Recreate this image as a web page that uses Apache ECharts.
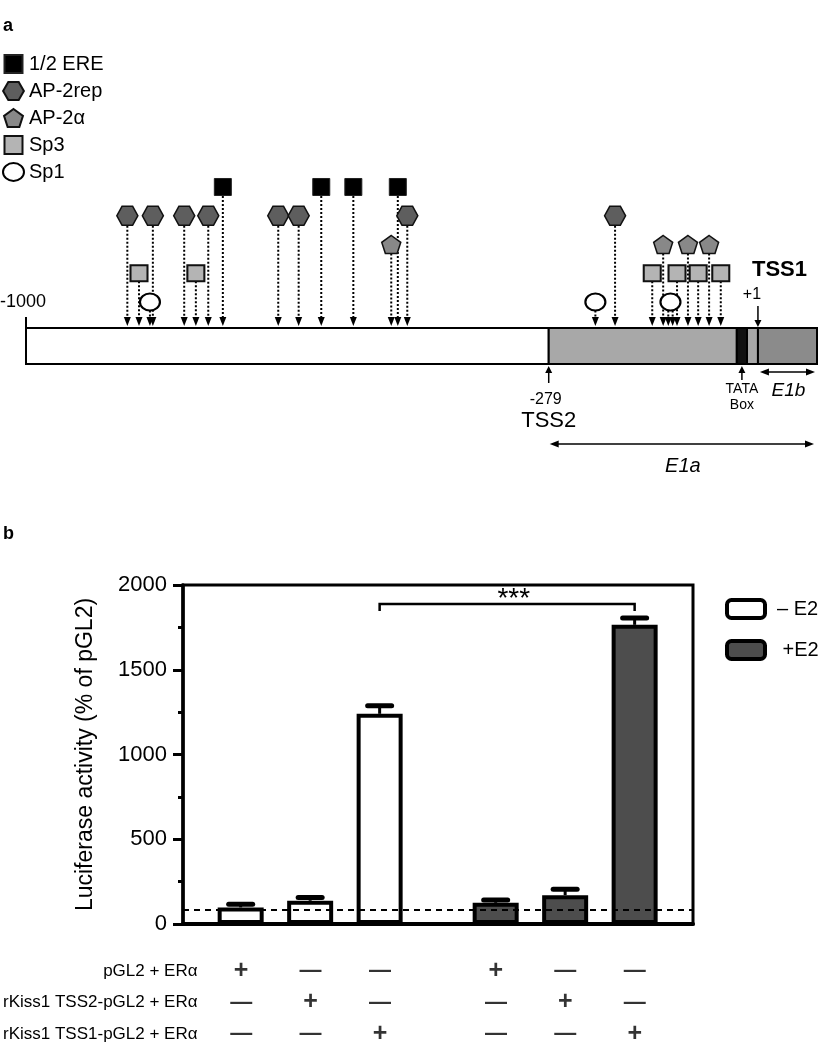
<!DOCTYPE html>
<html><head><meta charset="utf-8">
<script src="https://cdn.jsdelivr.net/npm/echarts@6/dist/echarts.min.js"></script>
<style>html,body{margin:0;padding:0;background:#fff}#c{width:818px;height:1050px}</style>
</head><body><div id="c"></div>
<script>
// ===== Panel a data (positions in bp) =====
const siteTypes = ['1/2 ERE', 'AP-2rep', 'AP-2α', 'Sp3', 'Sp1'];
const ereSites = [-730, -595, -551, -490];
const ap2repSites = [-861, -826, -783, -750, -654, -626, -477, -192];
const ap2aSites = [-499, -126, -92, -63];
const sp3Sites = [-845, -767, -141, -107, -78, -47];
const sp1Sites = [-830, -219, -116];
const sp1Arrows = [-830, -219, -119, -113];
const promoterStart = -1000, promoterEnd = 85;
const tss2Pos = -283, tss1Pos = 4;
const tataBox = [-25, -11];
const startLabel = '-1000', tss2Label = '-279', tss1Label = '+1';

// ===== Panel b data =====
const constructs = ['pGL2 + ERα', 'rKiss1 TSS2-pGL2 + ERα', 'rKiss1 TSS1-pGL2 + ERα'];
const minusE2 = [98, 137, 1240];
const minusE2Err = [18, 20, 48];
const plusE2 = [125, 170, 1765];
const plusE2Err = [17, 35, 40];
const baselinePct = 85;
const tableSigns = [
  ['+', '—', '—', '+', '—', '—'],
  ['—', '+', '—', '—', '+', '—'],
  ['—', '—', '+', '—', '—', '+']
];
const sigText = '***';

// ===== layout constants =====
const FONT = 'Liberation Sans, Arial, Helvetica, sans-serif';
const barPos = [0.83, 1.83, 2.83, 4.5, 5.5, 6.5];
const X_MAX_B = 7.34;
const ROW = {'1/2 ERE': 5, 'AP-2rep': 4, 'AP-2α': 3, 'Sp3': 2, 'Sp1': 1};
const HALF_H = {5: 9, 4: 10, 3: 9, 2: 8, 1: 8.5};
const BAR_TOP = 0.095, Y_MIN = -1.157, Y_MAX = 5.5;
const SIG_Y = 1888, SIG_TICK = 1847, SIG_TEXT_X = 4.76;

const SQ = 'path://M0,0H10V10H0Z';
const HEX = 'path://M0,8.66L5,0H15L20,8.66L15,17.32H5Z';
const PENT = 'path://M10,0L19.51,6.91L15.88,18.09L4.12,18.09L0.49,6.91Z';
const ELL = 'path://M0,8.5A10,8.5 0 1,1 20,8.5A10,8.5 0 1,1 0,8.5Z';

const siteSeries = [
  {name: '1/2 ERE', data: ereSites, symbol: SQ, size: [17, 17], color: '#000', border: '#222', bw: 1},
  {name: 'AP-2rep', data: ap2repSites, symbol: HEX, size: [21, 19], color: '#5e5e5e', border: '#111', bw: 1.5},
  {name: 'AP-2α', data: ap2aSites, symbol: PENT, size: [19, 18], color: '#888', border: '#111', bw: 1.5},
  {name: 'Sp3', data: sp3Sites, symbol: SQ, size: [17, 16], color: '#b4b4b4', border: '#111', bw: 2},
  {name: 'Sp1', data: sp1Sites, symbol: ELL, size: [20, 17], color: '#fff', border: '#000', bw: 2}
];

const arrowData = [];
siteSeries.forEach(s => {
  const arr = s.name === 'Sp1' ? sp1Arrows : s.data;
  arr.forEach(p => arrowData.push([p, ROW[s.name]]));
});

const segBounds = [promoterStart, tss2Pos, tataBox[0], tataBox[1], tss1Pos, promoterEnd];
const segFill = ['#ffffff', '#a8a8a8', '#111111', '#a8a8a8', '#8b8b8b'];
const segData = segFill.map((f, i) => [segBounds[i], segBounds[i + 1], i]);

function head(x, y, dir, len, hw) {
  let pts;
  if (dir === 'down') pts = [[x - hw, y - len], [x + hw, y - len], [x, y]];
  else if (dir === 'up') pts = [[x - hw, y + len], [x + hw, y + len], [x, y]];
  else if (dir === 'left') pts = [[x + len, y - hw], [x + len, y + hw], [x, y]];
  else pts = [[x - len, y - hw], [x - len, y + hw], [x, y]];
  return {type: 'polygon', shape: {points: pts}, style: {fill: '#000'}};
}
function ln(x1, y1, x2, y2, w, dash) {
  const st = {stroke: '#000', lineWidth: w || 1.5};
  if (dash) st.lineDash = dash;
  return {type: 'line', shape: {x1, y1, x2, y2}, style: st};
}
function tx(x, y, s, size, extra) {
  return {type: 'text', x, y, style: Object.assign({text: s, fontSize: size, fontFamily: FONT, fill: '#000', align: 'center', verticalAlign: 'middle'}, extra || {})};
}

const option = {
  animation: false,
  backgroundColor: '#fff',
  textStyle: {fontFamily: FONT, color: '#000'},
  title: [
    {text: 'a', left: 3, top: 17, padding: 0, textStyle: {fontSize: 18, fontWeight: 'bold', fontFamily: FONT, color: '#000'}},
    {text: 'b', left: 3, top: 525, padding: 0, textStyle: {fontSize: 18, fontWeight: 'bold', fontFamily: FONT, color: '#000'}}
  ],
  legend: [
    {data: siteTypes, orient: 'vertical', left: 2, top: 54, padding: 0, itemWidth: 21, itemHeight: 18, itemGap: 7,
     textStyle: {fontSize: 20, fontFamily: FONT, color: '#000'}, selectedMode: false},
    {data: ['– E2', '+E2'], orient: 'vertical', left: 725, top: 598, padding: 0, itemWidth: 38, itemHeight: 18, itemGap: 19,
     icon: 'roundRect', itemStyle: {borderColor: '#000', borderWidth: 4},
     formatter: n => n === '+E2' ? ' +E2' : n,
     textStyle: {fontSize: 20, fontFamily: FONT, color: '#000', padding: [0, 0, 0, 7]}, selectedMode: false}
  ],
  grid: [
    {left: 26, right: 1, top: 364 - (Y_MAX - Y_MIN) * 28.75, height: (Y_MAX - Y_MIN) * 28.75},
    {left: 183, top: 585, width: 510, height: 339, show: true, borderColor: '#000', borderWidth: 3},
    {left: 183, top: 955, width: 510, height: 102}
  ],
  xAxis: [
    {gridIndex: 0, type: 'value', min: promoterStart, max: promoterEnd, show: false},
    {gridIndex: 1, type: 'value', min: 0, max: X_MAX_B, axisLine: {show: true, onZero: false, lineStyle: {color: '#000', width: 4}},
     axisTick: {show: false}, axisLabel: {show: false}, splitLine: {show: false}},
    {gridIndex: 2, type: 'value', min: 0, max: X_MAX_B, show: false}
  ],
  yAxis: [
    {gridIndex: 0, type: 'value', min: Y_MIN, max: Y_MAX, show: false},
    {gridIndex: 1, type: 'value', min: 0, max: 2000, interval: 500,
     name: 'Luciferase activity (% of pGL2)', nameLocation: 'middle', nameGap: 86,
     nameTextStyle: {fontSize: 23, fontFamily: FONT, color: '#000'},
     axisLine: {show: true, lineStyle: {color: '#000', width: 3.5}},
     axisTick: {show: true, length: 10, lineStyle: {color: '#000', width: 3}},
     minorTick: {show: true, splitNumber: 2, length: 5, lineStyle: {color: '#000', width: 3}},
     axisLabel: {fontSize: 22, fontFamily: FONT, color: '#000', margin: 16, formatter: v => String(v)},
     splitLine: {show: false}},
    {gridIndex: 2, type: 'category', inverse: true, data: constructs,
     axisLine: {show: false}, axisTick: {show: false},
     axisLabel: {fontSize: 17, fontFamily: FONT, color: '#000', margin: -14}}
  ],
  series: [
    // promoter segments
    {type: 'custom', xAxisIndex: 0, yAxisIndex: 0, z: 1, silent: true, data: segData,
     renderItem: (params, api) => {
       const a = api.coord([api.value(0), BAR_TOP]);
       const b = api.coord([api.value(1), Y_MIN]);
       return {type: 'rect', shape: {x: a[0], y: a[1], width: b[0] - a[0], height: b[1] - a[1]},
               style: {fill: segFill[api.value(2)], stroke: '#000', lineWidth: 2}};
     }},
    // dotted arrows
    {type: 'custom', xAxisIndex: 0, yAxisIndex: 0, z: 2, silent: true, data: arrowData,
     renderItem: (params, api) => {
       const x = api.value(0), lvl = api.value(1);
       const p = api.coord([x, lvl]);
       const b = api.coord([x, BAR_TOP]);
       const y0 = p[1] + HALF_H[lvl], y1 = b[1] - 2;
       return {type: 'group', children: [
         ln(p[0], y0, p[0], y1 - 8, 2, [2, 2]),
         head(p[0], y1, 'down', 9, 3.5)
       ]};
     }},
    // annotations of panel a
    {type: 'custom', xAxisIndex: 0, yAxisIndex: 0, z: 4, silent: true, data: [[0, 0]],
     renderItem: (params, api) => {
       const top = api.coord([0, BAR_TOP])[1];
       const bot = api.coord([0, Y_MIN])[1];
       const xL = api.coord([promoterStart, 0])[0];
       const x2 = api.coord([tss2Pos, 0])[0];
       const x1 = api.coord([tss1Pos, 0])[0];
       const xT = api.coord([(tataBox[0] + tataBox[1]) / 2, 0])[0];
       const xE = api.coord([promoterEnd, 0])[0];
       return {type: 'group', children: [
         ln(xL, top - 11, xL, top, 2),
         tx(xL - 26, top - 26, startLabel, 18, {align: 'left'}),
         tx(x1 - 6, top - 33, tss1Label, 16),
         ln(x1, top - 22, x1, top - 6, 1.5), head(x1, top - 1, 'down', 7, 3.5),
         tx(x1 - 6, top - 58, 'TSS1', 22, {align: 'left', fontWeight: 'bold'}),
         ln(x2, bot + 19, x2, bot + 7, 1.5), head(x2, bot + 2, 'up', 7, 3.5),
         tx(x2 - 3, bot + 36, tss2Label, 16),
         tx(x2, bot + 57, 'TSS2', 22),
         ln(xT, bot + 16, xT, bot + 7, 1.5), head(xT, bot + 2, 'up', 7, 3.5),
         tx(xT, bot + 25, 'TATA', 14),
         tx(xT, bot + 41, 'Box', 14),
         ln(x1 + 8, bot + 8, xE - 8, bot + 8, 1.5), head(x1 + 2, bot + 8, 'left', 9, 3.5), head(xE - 2, bot + 8, 'right', 9, 3.5),
         tx((x1 + xE) / 2 + 1, bot + 27, 'E1b', 19, {fontStyle: 'italic'}),
         ln(x2 + 8, bot + 80, xE - 8, bot + 80, 1.5), head(x2 + 1, bot + 80, 'left', 9, 3.5), head(xE - 3, bot + 80, 'right', 9, 3.5),
         tx((x2 + xE) / 2, bot + 102, 'E1a', 20, {fontStyle: 'italic'})
       ]};
     }}
  ].concat(siteSeries.map(s => ({
    type: 'scatter', name: s.name, xAxisIndex: 0, yAxisIndex: 0, z: 3, silent: true,
    symbol: s.symbol, symbolSize: s.size,
    itemStyle: {color: s.color, borderColor: s.border, borderWidth: s.bw, opacity: 1},
    data: s.data.map(p => [p, ROW[s.name]])
  }))).concat([
    {type: 'bar', name: '– E2', xAxisIndex: 1, yAxisIndex: 1, barWidth: 46, barGap: '-100%', silent: true,
     itemStyle: {color: '#ffffff', borderColor: '#000', borderWidth: 4},
     data: minusE2.map((v, i) => [barPos[i], v]),
     markLine: {silent: true, symbol: ['none', 'none'], label: {show: false},
                lineStyle: {color: '#000', type: [6, 5], width: 2}, data: [{yAxis: baselinePct}]}},
    {type: 'bar', name: '+E2', xAxisIndex: 1, yAxisIndex: 1, barWidth: 46, barGap: '-100%', silent: true,
     itemStyle: {color: '#4d4d4d', borderColor: '#000', borderWidth: 4},
     data: plusE2.map((v, i) => [barPos[i + 3], v])},
    // error bars
    {type: 'custom', xAxisIndex: 1, yAxisIndex: 1, z: 6, silent: true,
     data: minusE2.map((v, i) => [barPos[i], v, minusE2Err[i]]).concat(plusE2.map((v, i) => [barPos[i + 3], v, plusE2Err[i]])),
     renderItem: (params, api) => {
       const p0 = api.coord([api.value(0), api.value(1)]);
       const p1 = api.coord([api.value(0), api.value(1) + api.value(2)]);
       return {type: 'group', children: [
         ln(p0[0], p0[1], p1[0], p1[1], 3),
         {type: 'line', shape: {x1: p1[0] - 12, y1: p1[1], x2: p1[0] + 12, y2: p1[1]}, style: {stroke: '#000', lineWidth: 5, lineCap: 'round'}}
       ]};
     }},
    // significance bracket
    {type: 'custom', xAxisIndex: 1, yAxisIndex: 1, z: 6, silent: true, data: [[barPos[2], barPos[5]]],
     renderItem: (params, api) => {
       const a = api.coord([api.value(0), SIG_Y]);
       const b = api.coord([api.value(1), SIG_Y]);
       const t = api.coord([0, SIG_TICK])[1];
       const s = api.coord([SIG_TEXT_X, SIG_Y]);
       return {type: 'group', children: [
         {type: 'polyline', shape: {points: [[a[0], t], a, b, [b[0], t]]}, style: {stroke: '#000', lineWidth: 2.5, fill: null}},
         tx(s[0], s[1] - 5, sigText, 28)
       ]};
     }},
    // condition table
    {type: 'scatter', xAxisIndex: 2, yAxisIndex: 2, symbolSize: 0, silent: true, z: 5,
     data: (function () { const d = []; tableSigns.forEach((row, r) => row.forEach((s, c) => d.push([barPos[c], r, s]))); return d; })(),
     label: {show: true, position: 'inside', formatter: p => p.value[2] === '+' ? '{p|+}' : '{m|—}',
             rich: {p: {fontSize: 25, fontWeight: 'bold', fontFamily: FONT, color: '#000'},
                    m: {fontSize: 22, fontWeight: 'bold', fontFamily: FONT, color: '#000'}}}}
  ])
};

const chart = echarts.init(document.getElementById('c'), null, {renderer: 'canvas'});
chart.setOption(option);
</script></body></html>
